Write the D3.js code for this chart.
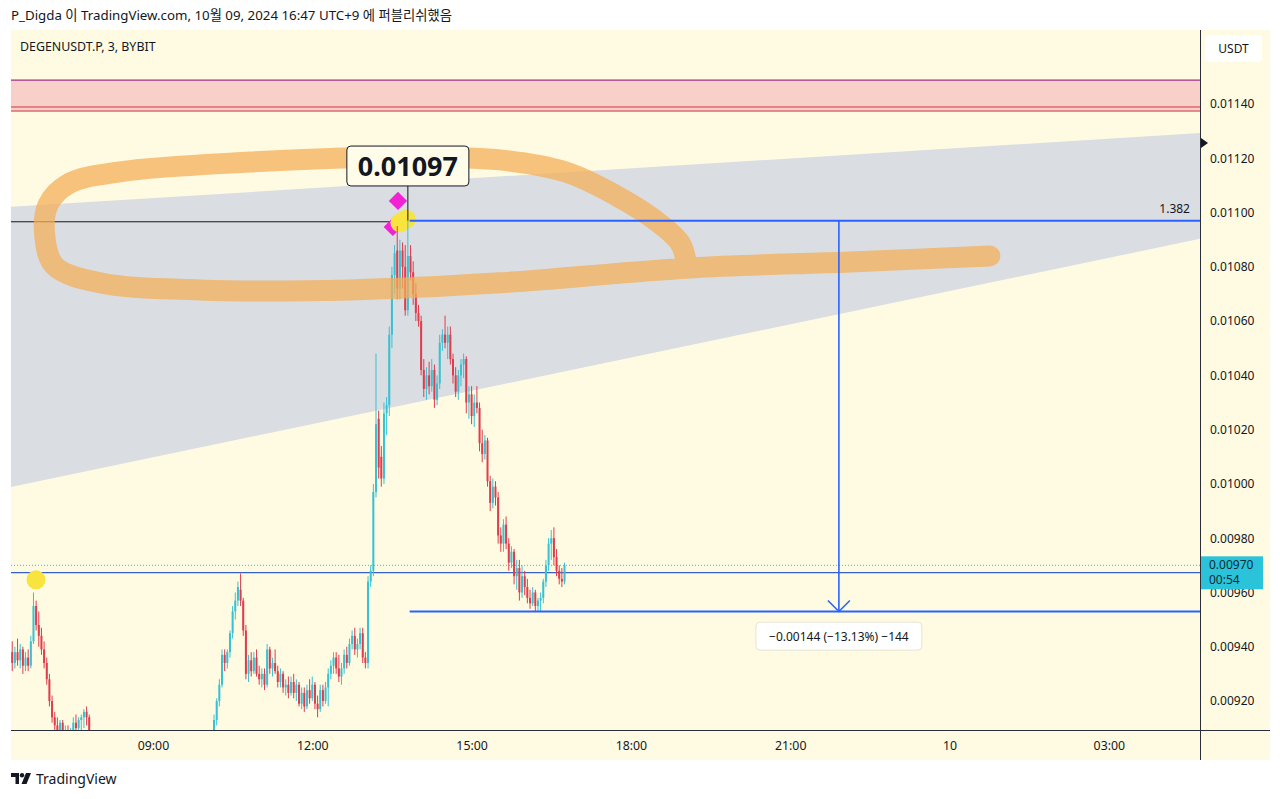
<!DOCTYPE html>
<html><head><meta charset="utf-8">
<script src="https://cdn.jsdelivr.net/npm/d3@7"></script>
<style>
body{margin:0;background:#fff;}
text{font-family:"Noto Sans","Noto Sans CJK KR",sans-serif;}
</style>
</head><body>
<svg id="chart" width="1280" height="799"></svg>
<script>
// ---------------- DATA ----------------
const headerText = "P_Digda 이 TradingView.com, 10월 09, 2024 16:47 UTC+9 에 퍼블리쉬했음";
const symbolText = "DEGENUSDT.P, 3, BYBIT";
const currency = "USDT";
const priceTicks = [0.0114,0.0112,0.0110,0.0108,0.0106,0.0104,0.0102,0.0100,0.0098,0.0096,0.0094,0.0092];
const timeTicks = ["2024-10-09T09:00","2024-10-09T12:00","2024-10-09T15:00","2024-10-09T18:00","2024-10-09T21:00","2024-10-10T00:00","2024-10-10T03:00"];
const timeTickLabels = ["09:00","12:00","15:00","18:00","21:00","10","03:00"];
const firstCandleTime = "2024-10-09T06:21:00";
const candleMinutes = 3;

const opens = [
0.00938,0.00934,0.00938,0.00935,0.00939,0.00933,0.00936,0.00933,0.00942,0.00955,
0.00948,0.00944,0.00939,0.00934,0.00928,0.00920,0.00914,0.00911,0.00909,0.00912,
0.00908,0.00909,0.00906,0.00908,0.00912,0.00910,0.00913,0.00914,0.00916,0.00914,
0.00906,0.00901,0.00903,0.00900,0.00898,0.00901,0.00899,0.00896,0.00898,0.00900,
0.00902,0.00900,0.00897,0.00894,0.00896,0.00898,0.00896,0.00893,0.00894,0.00892,
0.00895,0.00897,0.00895,0.00896,0.00899,0.00897,0.00894,0.00895,0.00898,0.00901,
0.00899,0.00896,0.00897,0.00900,0.00903,0.00901,0.00898,0.00899,0.00902,0.00904,
0.00901,0.00899,0.00897,0.00898,0.00900,0.00899,0.00904,0.00913,0.00920,0.00926,
0.00937,0.00934,0.00938,0.00945,0.00953,0.00957,0.00961,0.00957,0.00946,0.00930,
0.00935,0.00931,0.00936,0.00930,0.00928,0.00930,0.00926,0.00939,0.00932,0.00934,
0.00931,0.00927,0.00930,0.00925,0.00926,0.00923,0.00927,0.00923,0.00926,0.00919,
0.00923,0.00918,0.00924,0.00921,0.00926,0.00919,0.00917,0.00924,0.00920,0.00925,
0.00930,0.00933,0.00936,0.00932,0.00929,0.00932,0.00937,0.00934,0.00941,0.00944,
0.00939,0.00941,0.00945,0.00936,0.00934,0.00964,0.00968,0.00997,0.01024,0.01010,
0.01002,0.01026,0.01029,0.01055,0.01077,0.01086,0.01072,0.01086,0.01080,0.01064,
0.01084,0.01078,0.01070,0.01063,0.01060,0.01042,0.01035,0.01040,0.01036,0.01042,
0.01031,0.01037,0.01052,0.01055,0.01052,0.01055,0.01046,0.01040,0.01034,0.01040,
0.01044,0.01046,0.01030,0.01033,0.01025,0.01030,0.01028,0.01015,0.01011,0.01016,
0.01001,0.00993,0.00999,0.00995,0.00981,0.00978,0.00985,0.00978,0.00971,0.00975,
0.00966,0.00969,0.00960,0.00966,0.00962,0.00958,0.00956,0.00960,0.00955,0.00957,
0.00958,0.00964,0.00970,0.00978,0.00980,0.00973,0.00968,0.00965,0.00964];
const highs = [
0.00942,0.00940,0.00943,0.00941,0.00940,0.00938,0.00939,0.00944,0.00960,0.00957,
0.00953,0.00947,0.00942,0.00936,0.00930,0.00922,0.00916,0.00914,0.00913,0.00913,
0.00911,0.00911,0.00910,0.00914,0.00915,0.00914,0.00915,0.00917,0.00918,0.00915,
0.00907,0.00904,0.00905,0.00903,0.00902,0.00903,0.00901,0.00900,0.00902,0.00904,
0.00905,0.00902,0.00899,0.00898,0.00900,0.00901,0.00898,0.00896,0.00897,0.00896,
0.00899,0.00900,0.00898,0.00901,0.00902,0.00900,0.00897,0.00899,0.00903,0.00904,
0.00902,0.00899,0.00901,0.00905,0.00906,0.00903,0.00901,0.00903,0.00906,0.00907,
0.00904,0.00902,0.00900,0.00902,0.00903,0.00906,0.00915,0.00921,0.00928,0.00939,
0.00939,0.00939,0.00946,0.00955,0.00960,0.00964,0.00967,0.00958,0.00948,0.00937,
0.00938,0.00938,0.00939,0.00933,0.00932,0.00932,0.00941,0.00940,0.00936,0.00939,
0.00933,0.00932,0.00931,0.00928,0.00929,0.00929,0.00930,0.00928,0.00927,0.00925,
0.00925,0.00926,0.00928,0.00929,0.00927,0.00922,0.00926,0.00926,0.00927,0.00932,
0.00935,0.00938,0.00938,0.00937,0.00934,0.00939,0.00940,0.00943,0.00946,0.00947,
0.00943,0.00947,0.00947,0.00938,0.00966,0.00970,0.01000,0.01048,0.01027,0.01014,
0.01030,0.01032,0.01058,0.01080,0.01088,0.01095,0.01090,0.01089,0.01088,0.01097,
0.01088,0.01082,0.01074,0.01066,0.01062,0.01046,0.01043,0.01045,0.01046,0.01044,
0.01040,0.01055,0.01057,0.01062,0.01058,0.01058,0.01048,0.01043,0.01042,0.01046,
0.01048,0.01047,0.01036,0.01036,0.01033,0.01036,0.01030,0.01020,0.01018,0.01017,
0.01003,0.01002,0.01001,0.00997,0.00984,0.00987,0.00988,0.00980,0.00977,0.00976,
0.00972,0.00972,0.00970,0.00968,0.00965,0.00961,0.00962,0.00961,0.00958,0.00960,
0.00965,0.00972,0.00980,0.00983,0.00984,0.00976,0.00970,0.00969,0.00971];
const lows = [
0.00931,0.00932,0.00933,0.00932,0.00930,0.00931,0.00931,0.00932,0.00941,0.00946,
0.00940,0.00937,0.00932,0.00926,0.00918,0.00912,0.00909,0.00907,0.00906,0.00906,
0.00905,0.00905,0.00904,0.00906,0.00908,0.00907,0.00909,0.00910,0.00911,0.00905,
0.00899,0.00898,0.00899,0.00896,0.00895,0.00897,0.00894,0.00893,0.00896,0.00898,
0.00899,0.00895,0.00892,0.00891,0.00894,0.00895,0.00891,0.00889,0.00890,0.00889,
0.00893,0.00894,0.00892,0.00894,0.00896,0.00893,0.00891,0.00893,0.00896,0.00897,
0.00895,0.00893,0.00895,0.00898,0.00899,0.00896,0.00894,0.00897,0.00900,0.00900,
0.00897,0.00895,0.00894,0.00896,0.00897,0.00897,0.00903,0.00911,0.00918,0.00925,
0.00931,0.00932,0.00936,0.00943,0.00950,0.00955,0.00955,0.00944,0.00928,0.00927,
0.00929,0.00930,0.00929,0.00926,0.00925,0.00924,0.00925,0.00930,0.00929,0.00930,
0.00925,0.00925,0.00923,0.00922,0.00921,0.00922,0.00921,0.00920,0.00918,0.00917,
0.00916,0.00917,0.00919,0.00920,0.00917,0.00914,0.00916,0.00918,0.00919,0.00918,
0.00928,0.00930,0.00930,0.00927,0.00926,0.00930,0.00932,0.00933,0.00939,0.00937,
0.00936,0.00939,0.00934,0.00932,0.00932,0.00962,0.00966,0.00995,0.01002,0.00999,
0.01000,0.01018,0.01025,0.01050,0.01070,0.01068,0.01068,0.01072,0.01062,0.01062,
0.01075,0.01066,0.01060,0.01058,0.01040,0.01032,0.01031,0.01033,0.01034,0.01028,
0.01029,0.01035,0.01049,0.01050,0.01046,0.01044,0.01037,0.01032,0.01031,0.01036,
0.01039,0.01026,0.01024,0.01022,0.01021,0.01026,0.01012,0.01008,0.01009,0.00999,
0.00990,0.00991,0.00992,0.00978,0.00975,0.00975,0.00976,0.00968,0.00969,0.00963,
0.00961,0.00957,0.00958,0.00959,0.00956,0.00954,0.00955,0.00953,0.00953,0.00953,
0.00956,0.00962,0.00968,0.00972,0.00970,0.00966,0.00963,0.00962,0.00963];
const closes = [
0.00934,0.00938,0.00935,0.00939,0.00933,0.00936,0.00933,0.00942,0.00955,0.00948,
0.00944,0.00939,0.00934,0.00928,0.00920,0.00914,0.00911,0.00909,0.00912,0.00908,
0.00909,0.00906,0.00908,0.00912,0.00910,0.00913,0.00914,0.00916,0.00914,0.00906,
0.00901,0.00903,0.00900,0.00898,0.00901,0.00899,0.00896,0.00898,0.00900,0.00902,
0.00900,0.00897,0.00894,0.00896,0.00898,0.00896,0.00893,0.00894,0.00892,0.00895,
0.00897,0.00895,0.00896,0.00899,0.00897,0.00894,0.00895,0.00898,0.00901,0.00899,
0.00896,0.00897,0.00900,0.00903,0.00901,0.00898,0.00899,0.00902,0.00904,0.00901,
0.00899,0.00897,0.00898,0.00900,0.00899,0.00904,0.00913,0.00920,0.00926,0.00937,
0.00934,0.00938,0.00945,0.00953,0.00957,0.00962,0.00957,0.00946,0.00930,0.00935,
0.00931,0.00936,0.00930,0.00928,0.00930,0.00926,0.00939,0.00932,0.00934,0.00931,
0.00927,0.00930,0.00925,0.00926,0.00923,0.00927,0.00923,0.00926,0.00919,0.00923,
0.00918,0.00924,0.00921,0.00926,0.00919,0.00917,0.00924,0.00920,0.00925,0.00930,
0.00933,0.00936,0.00932,0.00929,0.00932,0.00937,0.00934,0.00941,0.00944,0.00939,
0.00941,0.00945,0.00936,0.00934,0.00964,0.00968,0.00997,0.01022,0.01006,0.01002,
0.01026,0.01029,0.01055,0.01077,0.01085,0.01072,0.01086,0.01080,0.01064,0.01084,
0.01078,0.01070,0.01063,0.01060,0.01042,0.01035,0.01040,0.01036,0.01042,0.01031,
0.01037,0.01052,0.01055,0.01052,0.01055,0.01046,0.01040,0.01034,0.01040,0.01044,
0.01046,0.01030,0.01033,0.01025,0.01030,0.01028,0.01015,0.01011,0.01016,0.01001,
0.00993,0.00999,0.00995,0.00981,0.00978,0.00985,0.00978,0.00971,0.00975,0.00966,
0.00969,0.00960,0.00966,0.00962,0.00958,0.00956,0.00960,0.00955,0.00957,0.00958,
0.00964,0.00970,0.00978,0.00980,0.00973,0.00968,0.00965,0.00964,0.00970];

// drawings (time, price)
const zoneTop = 0.011488, zoneLine = 0.011389, zoneBottom = 0.011374;
const wedgeTimes = ["2024-10-09T06:19:36","2024-10-10T04:43:00"];
const wedgeTopPrices = [0.011021, 0.011293];
const wedgeBottomPrices = [0.009989, 0.010903];
const highLinePrice = 0.010966, highLineEnd = "2024-10-09T13:37";
const fibPrice = 0.01097, fibLabel = "1.382", measureStart = "2024-10-09T13:50";
const lowPrice = 0.00953;
const arrowTime = "2024-10-09T21:55";
const measureText = "\u22120.00144 (\u221213.13%) \u2212144", measureLabelPrice = 0.009439;
const hLinePrice = 0.009673;
const lastPrice = 0.0097, lastPriceText = "0.00970", countdownText = "00:54";
const calloutTime = "2024-10-09T13:48", calloutText = "0.01097", calloutTop = 0.011245, calloutBottom = 0.011098;
const diamondTimes = ["2024-10-09T13:36:50","2024-10-09T13:31"];
const diamondPrices = [0.011043, 0.010947];
const yellowTimes = ["2024-10-09T13:39","2024-10-09T13:46","2024-10-09T06:47:50"];
const yellowPrices = [0.010962, 0.010975, 0.009647];
const axisMarkerPrice = 0.011256;
const loopTimes = ["2024-10-10T00:45:36","2024-10-09T22:07:36","2024-10-09T19:06:48","2024-10-09T15:32","2024-10-09T12:42:36","2024-10-09T09:53","2024-10-09T08:00","2024-10-09T07:09","2024-10-09T06:58","2024-10-09T07:01:24","2024-10-09T07:24","2024-10-09T08:22:40","2024-10-09T10:49:36","2024-10-09T13:39","2024-10-09T15:32","2024-10-09T16:45:36","2024-10-09T17:42","2024-10-09T18:27","2024-10-09T18:55:30","2024-10-09T19:02:24","2024-10-09T19:02:24"];
const loopPrices = [0.010840,0.010818,0.010796,0.010741,0.010715,0.010715,0.010741,0.010803,0.010906,0.011028,0.011105,0.011150,0.011186,0.011205,0.011194,0.011150,0.011065,0.010973,0.010888,0.010818,0.010796];

// ---------------- DRAW ----------------
const svg = d3.select("#chart");
const P = {left: 11, right: 1200, top: 30, bottom: 730, panelRight: 1270, panelBottom: 760};
const bg = "#fffbe2", ink = "#131722";
const up = "#38c1d3", down = "#e03c4c";

const x = d3.scaleTime().domain([new Date(wedgeTimes[0]), new Date(wedgeTimes[1])]).range([P.left, P.right]);
const y = d3.scaleLinear().domain([0.0114, 0.0092]).range([104, 701]);

// header
svg.append("text").attr("x", 11).attr("y", 20).attr("font-size", 13.3).attr("fill", ink).text(headerText);

// panel
svg.append("rect").attr("x", P.left).attr("y", P.top).attr("width", P.panelRight - P.left).attr("height", P.panelBottom - P.top).attr("fill", bg);

svg.append("defs").append("clipPath").attr("id", "plot")
  .append("rect").attr("x", P.left).attr("y", P.top).attr("width", P.right - P.left).attr("height", P.bottom - P.top);
const g = svg.append("g").attr("clip-path", "url(#plot)");

// wedge
const wt = wedgeTimes.map(d => new Date(d));
g.append("path")
  .attr("d", d3.line()([[x(wt[0]), y(wedgeTopPrices[0])], [x(wt[1]), y(wedgeTopPrices[1])], [x(wt[1]), y(wedgeBottomPrices[1])], [x(wt[0]), y(wedgeBottomPrices[0])]]) + "Z")
  .attr("fill", "#dadee3");

// red zone
g.append("rect").attr("x", P.left).attr("width", P.right - P.left)
  .attr("y", y(zoneTop)).attr("height", y(zoneBottom) - y(zoneTop)).attr("fill", "#f9d0c9");
g.append("line").attr("x1", P.left).attr("x2", P.right).attr("y1", y(zoneTop)).attr("y2", y(zoneTop)).attr("stroke", "#a2318a").attr("stroke-width", 1.3);
[zoneLine, zoneBottom].forEach(p => g.append("line").attr("x1", P.left).attr("x2", P.right).attr("y1", y(p)).attr("y2", y(p)).attr("stroke", "#d0343f").attr("stroke-width", 1));

// horizontal lines
g.append("line").attr("x1", P.left).attr("x2", x(new Date(highLineEnd))).attr("y1", y(highLinePrice)).attr("y2", y(highLinePrice)).attr("stroke", ink).attr("stroke-width", 1);
g.append("line").attr("x1", P.left).attr("x2", P.right).attr("y1", y(lastPrice)).attr("y2", y(lastPrice)).attr("stroke", "#26c6da").attr("stroke-width", 1).attr("stroke-dasharray", "1,2");
g.append("line").attr("x1", P.left).attr("x2", P.right).attr("y1", y(hLinePrice)).attr("y2", y(hLinePrice)).attr("stroke", "#3561c6").attr("stroke-width", 1.2);

// markers
diamondTimes.forEach((t, i) => {
  const cx = x(new Date(t)), cy = y(diamondPrices[i]);
  g.append("rect").attr("x", cx - 6.5).attr("y", cy - 6.5).attr("width", 13).attr("height", 13)
    .attr("transform", `rotate(45 ${cx} ${cy})`).attr("fill", "#f321d6");
});
yellowTimes.forEach((t, i) => {
  g.append("circle").attr("cx", x(new Date(t))).attr("cy", y(yellowPrices[i])).attr("r", 9.5).attr("fill", "#f9e33f");
});

// candles
const t0 = new Date(firstCandleTime).getTime();
const candles = opens.map((o, i) => ({t: new Date(t0 + i * candleMinutes * 60000), o, h: highs[i], l: lows[i], c: closes[i]}));
const cg = g.append("g");
cg.selectAll("line.wick").data(candles).join("line")
  .attr("x1", d => x(d.t)).attr("x2", d => x(d.t)).attr("y1", d => y(d.h)).attr("y2", d => y(d.l))
  .attr("stroke", d => d.c >= d.o ? up : down).attr("stroke-width", 1);
cg.selectAll("rect.body").data(candles).join("rect")
  .attr("x", d => x(d.t) - 1).attr("width", 2)
  .attr("y", d => y(Math.max(d.o, d.c))).attr("height", d => Math.max(1, Math.abs(y(d.o) - y(d.c))))
  .attr("fill", d => d.c >= d.o ? up : down);

// orange highlighter loop
const loopPts = loopTimes.map((t, i) => [x(new Date(t)), y(loopPrices[i])]);
g.append("path").attr("d", d3.line().curve(d3.curveCatmullRom.alpha(0.5))(loopPts))
  .attr("fill", "none").attr("stroke", "#f3ae58").attr("stroke-opacity", 0.74)
  .attr("stroke-width", 21).attr("stroke-linecap", "round").attr("stroke-linejoin", "round");

// fib / measure lines
const xs = x(new Date(measureStart));
g.append("line").attr("x1", xs).attr("x2", P.right).attr("y1", y(fibPrice)).attr("y2", y(fibPrice)).attr("stroke", "#2962ff").attr("stroke-width", 2);
g.append("line").attr("x1", xs).attr("x2", P.right).attr("y1", y(lowPrice)).attr("y2", y(lowPrice)).attr("stroke", "#2962ff").attr("stroke-width", 2);
g.append("text").attr("x", P.right - 10).attr("y", y(fibPrice) - 8).attr("text-anchor", "end").attr("font-size", 12).attr("fill", ink).text(fibLabel);
const ax = x(new Date(arrowTime));
g.append("line").attr("x1", ax).attr("x2", ax).attr("y1", y(fibPrice)).attr("y2", y(lowPrice)).attr("stroke", "#2962ff").attr("stroke-width", 1.6);
g.append("path").attr("d", `M${ax - 11},${y(lowPrice) - 11}L${ax},${y(lowPrice)}L${ax + 11},${y(lowPrice) - 11}`)
  .attr("fill", "none").attr("stroke", "#2962ff").attr("stroke-width", 1.6);

// measure label
const ml = g.append("g").attr("transform", `translate(${ax},${y(measureLabelPrice)})`);
ml.append("rect").attr("x", -83).attr("y", -14).attr("width", 166).attr("height", 28).attr("rx", 4)
  .attr("fill", "#ffffff").attr("stroke", "#e6e3d2").attr("stroke-width", 1);
ml.append("text").attr("text-anchor", "middle").attr("y", 4.5).attr("font-size", 12).attr("fill", ink).text(measureText);

// callout
const cx = x(new Date(calloutTime));
g.append("line").attr("x1", cx).attr("x2", cx).attr("y1", y(calloutBottom)).attr("y2", y(fibPrice)).attr("stroke", ink).attr("stroke-width", 1);
g.append("rect").attr("x", cx - 61).attr("y", y(calloutTop)).attr("width", 122).attr("height", y(calloutBottom) - y(calloutTop))
  .attr("rx", 4).attr("fill", "#fffdea").attr("stroke", ink).attr("stroke-width", 1);
g.append("text").attr("x", cx).attr("y", (y(calloutTop) + y(calloutBottom)) / 2 + 9.5).attr("text-anchor", "middle")
  .attr("font-size", 27).attr("font-weight", "bold").attr("fill", ink).text(calloutText);

// symbol title
svg.append("text").attr("x", 20).attr("y", 51).attr("font-size", 12.4).attr("fill", ink).text(symbolText);

// frame lines
svg.append("line").attr("x1", P.right + 0.5).attr("x2", P.right + 0.5).attr("y1", P.top).attr("y2", P.panelBottom).attr("stroke", "#2a2e39");
svg.append("line").attr("x1", P.left).attr("x2", P.panelRight).attr("y1", P.bottom + 0.5).attr("y2", P.bottom + 0.5).attr("stroke", "#2a2e39");

// price axis
const yAxis = svg.append("g").attr("transform", `translate(${P.right},0)`)
  .call(d3.axisRight(y).tickValues(priceTicks).tickFormat(d3.format(".5f")).tickSize(0).tickPadding(10));
yAxis.select(".domain").remove();
yAxis.selectAll("text").attr("font-size", 12).attr("fill", ink).attr("font-family", "Noto Sans, sans-serif");

// time axis
const xAxis = svg.append("g").attr("transform", `translate(0,${P.bottom})`)
  .call(d3.axisBottom(x).tickValues(timeTicks.map(d => new Date(d))).tickFormat((d, i) => timeTickLabels[i]).tickSize(0).tickPadding(11));
xAxis.select(".domain").remove();
xAxis.selectAll("text").attr("font-size", 12.3).attr("fill", ink).attr("font-family", "Noto Sans, sans-serif");

// axis marker triangle
const my = y(axisMarkerPrice);
svg.append("path").attr("d", `M${P.right + 1},${my - 5}L${P.right + 8},${my}L${P.right + 1},${my + 5}Z`).attr("fill", ink);

// currency box
svg.append("rect").attr("x", 1205).attr("y", 35).attr("width", 57).attr("height", 27).attr("rx", 4).attr("fill", "#ffffff");
svg.append("text").attr("x", 1233.5).attr("y", 53).attr("text-anchor", "middle").attr("font-size", 12).attr("fill", ink).text(currency);

// last price label
const ly = y(lastPrice);
svg.append("rect").attr("x", P.right + 1).attr("y", ly - 9).attr("width", 62).attr("height", 33).attr("fill", "#2bc3d9");
svg.append("text").attr("x", 1209).attr("y", ly + 4).attr("font-size", 12).attr("fill", "#0c2c36").text(lastPriceText);
svg.append("text").attr("x", 1209).attr("y", ly + 19).attr("font-size", 12).attr("fill", "#0c2c36").text(countdownText);

// TradingView footer
const lg = svg.append("g").attr("transform", "translate(11,773)").attr("fill", ink);
lg.append("path").attr("d", "M0,0H8V11H4.5V4H0Z");
lg.append("circle").attr("cx", 11).attr("cy", 2.2).attr("r", 2.2);
lg.append("path").attr("d", "M15,0H20L15.5,11H10.5Z");
svg.append("text").attr("x", 36).attr("y", 784).attr("font-size", 14).attr("fill", ink).text("TradingView");
</script>
</body></html>
